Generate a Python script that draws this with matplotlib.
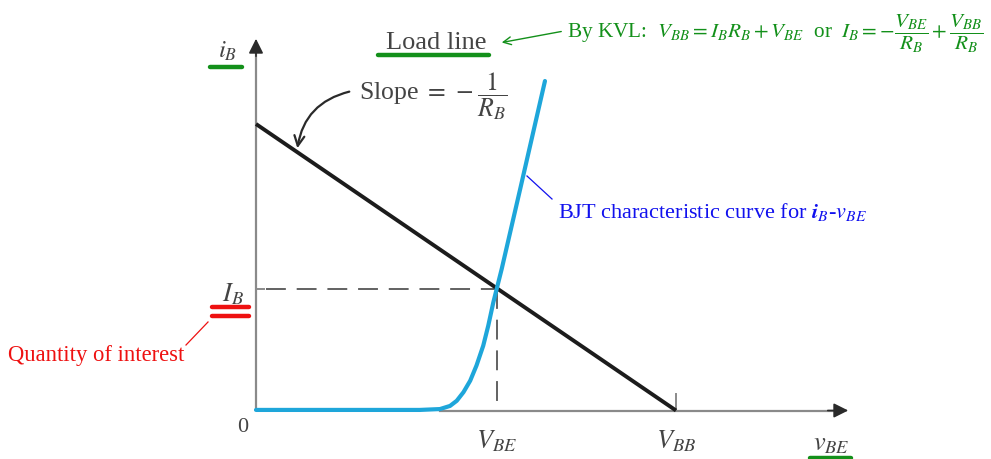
import matplotlib
matplotlib.use("Agg")
import matplotlib.pyplot as plt
import numpy as np

# ---------------- data (normalised units) ----------------
V_BB = 1.0                 # load-line x-intercept
I_SC = 1.0                 # load-line y-intercept (V_BB / R_B)
V_BE_Q = 0.573             # operating-point voltage
I_B_Q = 0.424              # operating-point current
curve_v = [0.0, 0.390, 0.438, 0.462, 0.478, 0.494, 0.510, 0.525, 0.541, 0.553, 0.565, 0.573, 0.585, 0.629, 0.688]
curve_i = [0.002, 0.002, 0.005, 0.016, 0.034, 0.064, 0.104, 0.157, 0.226, 0.296, 0.377, 0.424, 0.494, 0.773, 1.150]

plt.rcParams['font.family'] = ['Liberation Serif', 'DejaVu Serif']
plt.rcParams['mathtext.fontset'] = 'stix'

W, H = 991, 460
fig = plt.figure(figsize=(W / 100, H / 100), dpi=100)
ax = fig.add_axes([0, 0, 1, 1])
X0, Y0, SX, SY = 256, 411.5, 420, 286.5
ax.set_xlim(-X0 / SX, (W - X0) / SX)
ax.set_ylim((Y0 - H) / SY, Y0 / SY)
ax.axis('off')

def px(x):
    return (x - X0) / SX

def py(y):
    return (Y0 - y) / SY

axis_gray = '#8a8a8a'
head_col = '#2a2a2a'
text_gray = '#444444'
green = '#13901a'

# axes with arrows
ax.plot([0, 0], [0, py(50)], color=axis_gray, lw=1.6, solid_capstyle='butt', zorder=2)
ax.annotate('', xy=(0, py(37)), xytext=(0, py(60)),
            arrowprops=dict(arrowstyle='-|>', color=head_col, lw=1.2, mutation_scale=22), zorder=3)
ax.plot([px(440), px(840)], [0, 0], color=axis_gray, lw=1.6, zorder=2)
ax.annotate('', xy=(px(851), 0), xytext=(px(825), 0),
            arrowprops=dict(arrowstyle='-|>', color=head_col, lw=1.2, mutation_scale=22), zorder=3)
# ticks
ax.plot([0, px(264)], [I_B_Q, I_B_Q], color=axis_gray, lw=1.4, zorder=2)
ax.plot([V_BB, V_BB], [0, py(395)], color=axis_gray, lw=1.4, zorder=2)

# dashed guides
ax.plot([px(266), V_BE_Q], [I_B_Q, I_B_Q], color='#555555', lw=1.3, dashes=(11, 6), zorder=2)
ax.plot([V_BE_Q, V_BE_Q], [I_B_Q, 0], color='#555555', lw=1.3, dashes=(11, 6), zorder=2)

# load line
ax.plot([0, V_BB], [I_SC, 0], color='#1c1c1c', lw=2.8, solid_capstyle='butt', zorder=4)

# BJT curve
ax.plot(curve_v, curve_i, color='#1ea6da', lw=3.0, solid_capstyle='round',
        solid_joinstyle='round', zorder=5)

# axis labels
ax.text(px(228), py(51), r'$i_B$', fontsize=18, color=text_gray, ha='center', va='center')
ax.plot([px(210), px(242)], [py(68), py(68)], color=green, lw=3.2, solid_capstyle='round')
ax.text(px(831), py(445), r'$v_{BE}$', fontsize=19, color=text_gray, ha='center', va='center')
ax.plot([px(810), px(851)], [py(459), py(459)], color=green, lw=3.2, solid_capstyle='round')
ax.text(px(243), py(428), '0', fontsize=16, color=text_gray, ha='center', va='center')
ax.text(V_BE_Q, py(441), r'$V_{BE}$', fontsize=19, color=text_gray, ha='center', va='center')
ax.text(V_BB, py(441), r'$V_{BB}$', fontsize=19, color=text_gray, ha='center', va='center')
ax.text(px(233), py(294), r'$I_B$', fontsize=19, color=text_gray, ha='center', va='center')

# quantity of interest
ax.plot([px(212), px(249)], [py(308), py(308)], color='#ee1111', lw=3.2, solid_capstyle='round')
ax.plot([px(212), px(249)], [py(317), py(317)], color='#ee1111', lw=3.2, solid_capstyle='round')
ax.plot([px(208), px(186)], [py(323), py(346)], color='#ee1111', lw=0.9)
ax.text(px(8), py(356), 'Quantity of interest', fontsize=16.3, color='#ee1111', ha='left', va='center')

# load line label
ax.text(px(436), py(43), 'Load line', fontsize=19, color=text_gray, ha='center', va='center')
ax.plot([px(378), px(489)], [py(56), py(56)], color=green, lw=3.2, solid_capstyle='round')
ax.annotate('', xy=(px(499), py(44)), xytext=(px(564), py(32)),
            arrowprops=dict(arrowstyle='->', color=green, lw=1.0, mutation_scale=14))
ax.text(px(567), py(34),
        r'By KVL:  $V_{BB}=I_B R_B+V_{BE}$  or  $I_B=-\dfrac{V_{BE}}{R_B}+\dfrac{V_{BB}}{R_B}$',
        fontsize=15.3, color=green, ha='left', va='center')

# slope label
ax.text(px(359), py(96), r'Slope $=\,-\dfrac{1}{R_B}$', fontsize=18.5, color=text_gray,
        ha='left', va='center')
ax.annotate('', xy=(px(297), py(152)), xytext=(px(352), py(92)),
            arrowprops=dict(arrowstyle='->', color='#2a2a2a', lw=1.6, mutation_scale=18,
                            connectionstyle='arc3,rad=0.35'))

# BJT label
ax.plot([px(527), px(552)], [py(177), py(200)], color='#1111ee', lw=0.9)
ax.text(px(558), py(212), r'BJT characteristic curve for $\boldsymbol{i}_B$-$v_{BE}$',
        fontsize=16, color='#1111ee', ha='left', va='center')

fig.savefig('out.png', dpi=100)
